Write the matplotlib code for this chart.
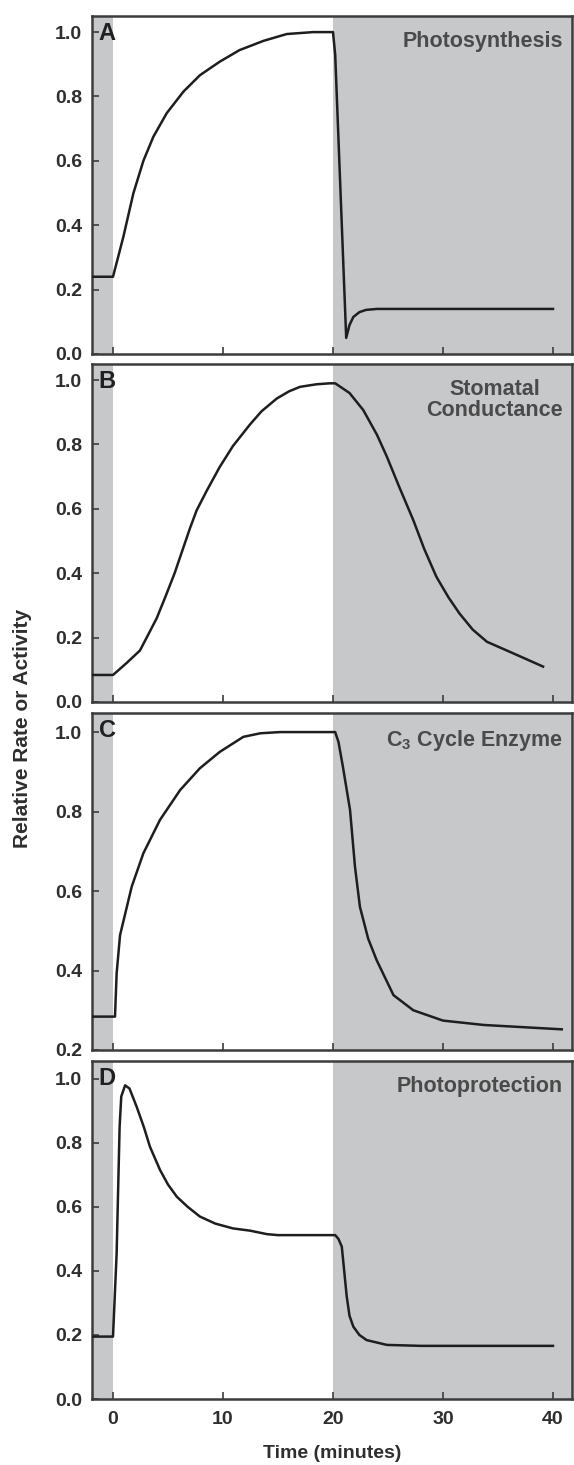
import matplotlib.pyplot as plt
import numpy as np

# 字体：Arial 风格的粗体
plt.rcParams['font.family'] = ['Liberation Sans', 'DejaVu Sans']
plt.rcParams['font.weight'] = 'bold'
plt.rcParams['mathtext.fontset'] = 'custom'
plt.rcParams['mathtext.rm'] = 'Liberation Sans:bold'
plt.rcParams['mathtext.default'] = 'rm'

# --- 数据 ---
light_on = 0
light_off = 20

time_a = [-2, 0, 0.94, 1.85, 2.76, 3.67, 4.88, 6.4, 7.9, 9.7, 11.5, 13.7, 15.8, 18.2, 20.0,
          20.2, 21.2, 21.5, 21.85, 22.4, 23.0, 24, 30, 40]
rate_a = [0.24, 0.24, 0.364, 0.499, 0.60, 0.675, 0.748, 0.815, 0.866, 0.908, 0.944, 0.973,
          0.994, 1.0, 1.0, 0.93, 0.05, 0.09, 0.115, 0.13, 0.137, 0.14, 0.14, 0.14]

time_b = [-2, 0, 1.2, 2.45, 3.06, 3.97, 4.8, 5.6, 6.4, 7.0, 7.6, 8.5, 9.7, 10.9, 12.45, 13.5,
          14.9, 16, 17, 18.5, 19.7, 20.2, 21.5, 22.75, 24, 24.9, 26, 27.3, 28.3, 29.4, 30.5,
          31.5, 32.7, 34, 36.4, 39.1]
rate_b = [0.084, 0.084, 0.12, 0.16, 0.20, 0.26, 0.33, 0.40, 0.48, 0.54, 0.595, 0.655,
          0.73, 0.795, 0.862, 0.903, 0.943, 0.965, 0.979, 0.987, 0.99, 0.99, 0.96, 0.907, 0.83,
          0.762, 0.67, 0.565, 0.475, 0.389, 0.325, 0.275, 0.225, 0.187, 0.151, 0.11]

time_c = [-2, 0.18, 0.33, 0.64, 1.7, 2.76, 4.27, 6.1, 7.9, 9.7, 11.85, 13.4, 15.2, 20.2,
          20.5, 20.9, 21.55, 22.0, 22.45, 23.2, 23.97, 25.5, 27.3, 30, 33.7, 40.8]
rate_c = [0.284, 0.284, 0.393, 0.489, 0.611, 0.695, 0.779, 0.854, 0.909, 0.95, 0.988, 0.997,
          1.0, 1.0, 0.975, 0.913, 0.804, 0.661, 0.56, 0.48, 0.426, 0.338, 0.30, 0.274, 0.263,
          0.252]

time_d = [-2, 0, 0.33, 0.6, 0.75, 1.1, 1.5, 2.15, 2.8, 3.36, 4.27, 5.0, 5.8, 6.8, 7.9, 9.3,
          10.9, 12.45, 14, 15, 20.2, 20.5, 20.8, 21.25, 21.5, 21.85, 22.4, 23.06, 24.9, 28, 40]
rate_d = [0.195, 0.195, 0.455, 0.85, 0.945, 0.98, 0.97, 0.913, 0.85, 0.788, 0.716, 0.67,
          0.632, 0.60, 0.57, 0.548, 0.533, 0.526, 0.515, 0.512, 0.512, 0.50, 0.476, 0.32,
          0.26, 0.226, 0.20, 0.184, 0.169, 0.166, 0.166]

panels = [
    ('A', 'Photosynthesis', time_a, rate_a, (0.0, 1.05), [0.0, 0.2, 0.4, 0.6, 0.8, 1.0]),
    ('B', 'Stomatal\nConductance', time_b, rate_b, (0.0, 1.05), [0.0, 0.2, 0.4, 0.6, 0.8, 1.0]),
    ('C', 'C$_3$ Cycle Enzyme', time_c, rate_c, (0.2, 1.048), [0.2, 0.4, 0.6, 0.8, 1.0]),
    ('D', 'Photoprotection', time_d, rate_d, (0.0, 1.056), [0.0, 0.2, 0.4, 0.6, 0.8, 1.0]),
]
xticks = [0, 10, 20, 30, 40]
xlim = (-1.91, 41.73)

# 每个面板在画布上的像素位置（上、下）
W, H = 574, 1465
panel_px = [(16, 354), (364, 702), (713, 1050), (1061, 1399)]
left_px, right_px = 92, 572

shade = '#c7c8ca'
ink = '#1e1e1e'
spine_c = '#3c3c3c'

fig = plt.figure(figsize=(W / 100, H / 100), dpi=100)

for i, (letter, label, t, r, ylim, yticks) in enumerate(panels):
    top, bot = panel_px[i]
    ax = fig.add_axes([left_px / W, 1 - bot / H, (right_px - left_px) / W, (bot - top) / H])

    ax.axvspan(xlim[0], light_on, color=shade, lw=0, zorder=0)
    ax.axvspan(light_off, xlim[1], color=shade, lw=0, zorder=0)
    ax.plot(t, r, color=ink, lw=1.8, zorder=3, solid_joinstyle='round')

    ax.set_xlim(*xlim)
    ax.set_ylim(*ylim)
    ax.set_xticks(xticks)
    ax.set_yticks(yticks)
    ax.set_yticklabels([f'{v:.1f}' for v in yticks])
    ax.tick_params(direction='in', length=5, width=1.2, color=spine_c,
                   labelsize=14, labelcolor='#2e2e2e')
    ax.tick_params(axis='y', pad=7)
    ax.tick_params(axis='x', pad=9)
    if i < 3:
        ax.tick_params(axis='x', labelbottom=False)

    for s in ax.spines.values():
        s.set_color(spine_c)
        s.set_linewidth(1.8)

    ax.text(0.014, 0.982, letter, transform=ax.transAxes, ha='left', va='top',
            fontsize=17, fontweight='bold', color='#202020', zorder=4)
    ax.text(0.981, 0.955, label, transform=ax.transAxes, ha='right', va='top',
            multialignment='center', fontsize=15.5, fontweight='bold',
            color='#4a4a4a', linespacing=1.0, zorder=4)

fig.text(23 / W, 1 - 728 / H, 'Relative Rate or Activity', rotation=90,
         ha='center', va='center', fontsize=15, fontweight='bold', color='#2e2e2e')
fig.text((left_px + right_px) / 2 / W, 1 - 1453 / H, 'Time (minutes)',
         ha='center', va='center', fontsize=14, fontweight='bold', color='#2e2e2e')

plt.savefig('out.png', dpi=100)
